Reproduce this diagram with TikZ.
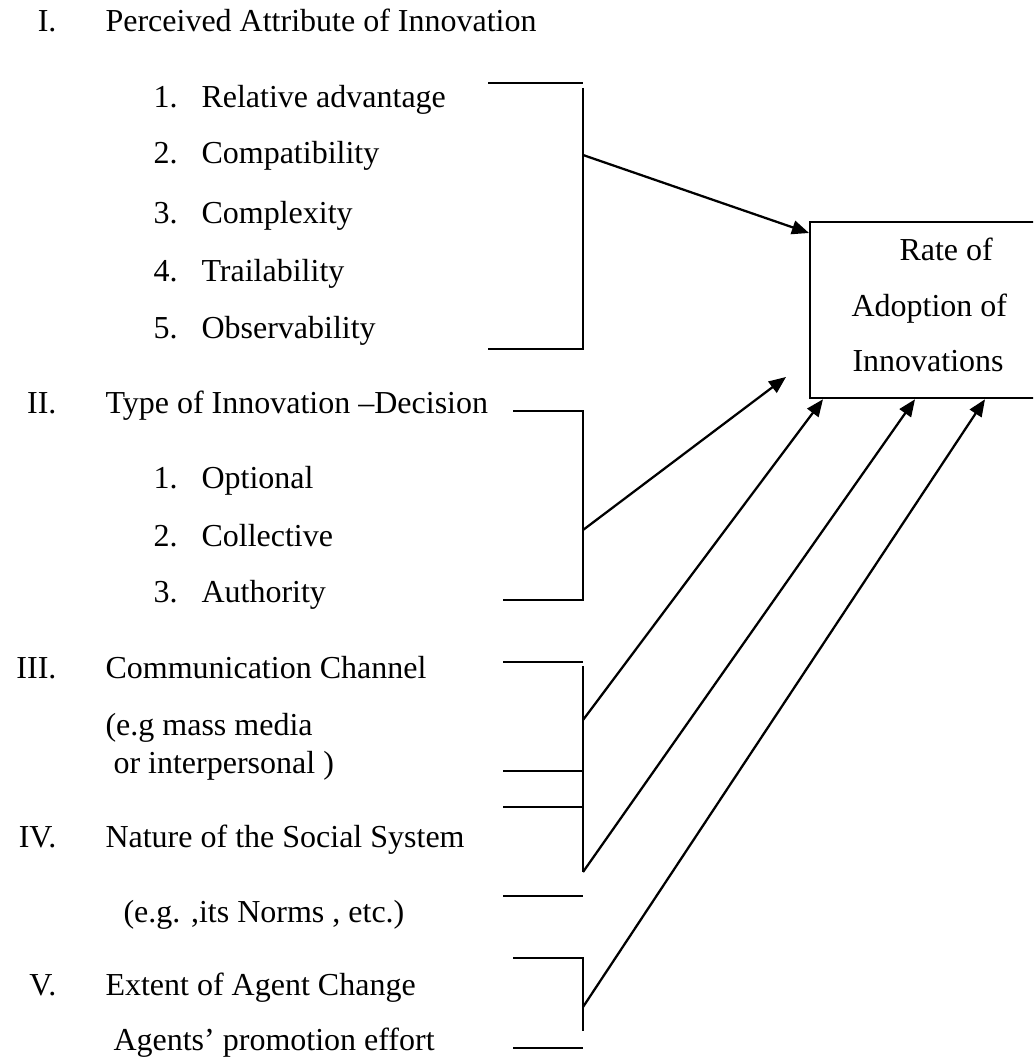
\documentclass[tikz,border=0pt]{standalone}
\usepackage{fontspec}
\setmainfont{Liberation Serif}
\usetikzlibrary{arrows.meta,calc}
\begin{document}
\begin{tikzpicture}[x=0.375pt,y=-0.375pt,
  txt/.style={anchor=base west,inner sep=0pt,font=\fontsize{12}{14}\selectfont},
  num/.style={anchor=base east,inner sep=0pt,font=\fontsize{12}{14}\selectfont},
  rule/.style={line width=0.85pt},
  link/.style={line width=0.85pt,-{Triangle[length=6.4pt,width=5.2pt]}}]
\useasboundingbox (0,0) rectangle (1033,1059);
\clip (0,0) rectangle (1033,1059);

% outcome box (its right side runs past the page edge)
\node[draw,line width=0.85pt,minimum width=280*0.375pt,minimum height=176*0.375pt,
      anchor=north west,inner sep=0pt] (box) at (809,221) {};
\node[txt] (r1) at (899,260) {Rate of};
\node[txt] (r2) at (851,316) {Adoption of};
\node[txt] (r3) at (852,371) {Innovations};

% I. perceived attributes
\node[num] (n1) at (57,32) {I.};
\node[txt] (h1) at (105,32) {Perceived Attribute of Innovation};
\node[txt] (a1) at (153,107) {1.\hspace{9pt}Relative advantage};
\node[txt] (a2) at (153,164) {2.\hspace{9pt}Compatibility};
\node[txt] (a3) at (153,223) {3.\hspace{9pt}Complexity};
\node[txt] (a4) at (153,281) {4.\hspace{9pt}Trailability};
\node[txt] (a5) at (153,338) {5.\hspace{9pt}Observability};

% II. type of decision
\node[num] (n2) at (57,413) {II.};
\node[txt] (h2) at (105,413) {Type of Innovation –Decision};
\node[txt] (b1) at (153,488) {1.\hspace{9pt}Optional};
\node[txt] (b2) at (153,546) {2.\hspace{9pt}Collective};
\node[txt] (b3) at (153,602) {3.\hspace{9pt}Authority};

% III. communication channel
\node[num] (n3) at (57,678) {III.};
\node[txt] (h3) at (105,678) {Communication Channel};
\node[txt] (c1) at (105,735) {(e.g mass media};
\node[txt] (c2) at (113,773) {or interpersonal )};

% IV. social system
\node[num] (n4) at (57,847) {IV.};
\node[txt] (h4) at (105,847) {Nature of the Social System};
\node[txt] (d1) at (123,922) {(e.g. ,its Norms , etc.)};

% V. change agents
\node[num] (n5) at (57,995) {V.};
\node[txt] (h5) at (105,995) {Extent of Agent Change};
\node[txt] (e1) at (113,1050) {Agents’ promotion effort};

% bracket corners
\coordinate (p1a) at (488,83);   \coordinate (p1b) at (583,83);
\coordinate (p1c) at (583,88);   \coordinate (p1d) at (583,349);
\coordinate (p1e) at (488,349);  \coordinate (p1m) at (583,155);

\coordinate (p2a) at (513,411);  \coordinate (p2b) at (583,411);
\coordinate (p2c) at (583,600);  \coordinate (p2d) at (503,600);
\coordinate (p2m) at (583,530);

\coordinate (p3a) at (503,662);  \coordinate (p3b) at (583,662);
\coordinate (p3c) at (583,666);  \coordinate (p3d) at (583,872);
\coordinate (p3m) at (583,720);
\coordinate (p3e) at (503,771);  \coordinate (p3f) at (583,771);
\coordinate (p3g) at (503,807);  \coordinate (p3h) at (583,807);
\coordinate (p4a) at (503,896);  \coordinate (p4b) at (583,896);

\coordinate (p5a) at (513,958);  \coordinate (p5b) at (583,958);
\coordinate (p5c) at (583,1031); \coordinate (p5m) at (583,1007);
\coordinate (p5d) at (513,1048); \coordinate (p5e) at (583,1048);

\coordinate (free2) at (786,377);

% brackets
\draw[rule] (p1a) -- (p1b);
\draw[rule] (p1c) -- (p1d) -- (p1e);
\draw[rule] (p2a) -- (p2b) -- (p2c) -- (p2d);
\draw[rule] (p3a) -- (p3b);
\draw[rule] (p3c) -- (p3d);
\draw[rule] (p3e) -- (p3f);
\draw[rule] (p3g) -- (p3h);
\draw[rule] (p4a) -- (p4b);
\draw[rule] (p5a) -- (p5b) -- (p5c);
\draw[rule] (p5d) -- (p5e);

% influences on the rate of adoption
\draw[link] (p1m) -- ($(box.north west)+(0,12)$);
\draw[link] (p2m) -- (free2);
\draw[link] (p3m) -- ($(box.south west)+(14,0)$);
\draw[link] (p3d) -- ($(box.south west)+(106,0)$);
\draw[link] (p5m) -- ($(box.south west)+(176,0)$);
\end{tikzpicture}
\end{document}
